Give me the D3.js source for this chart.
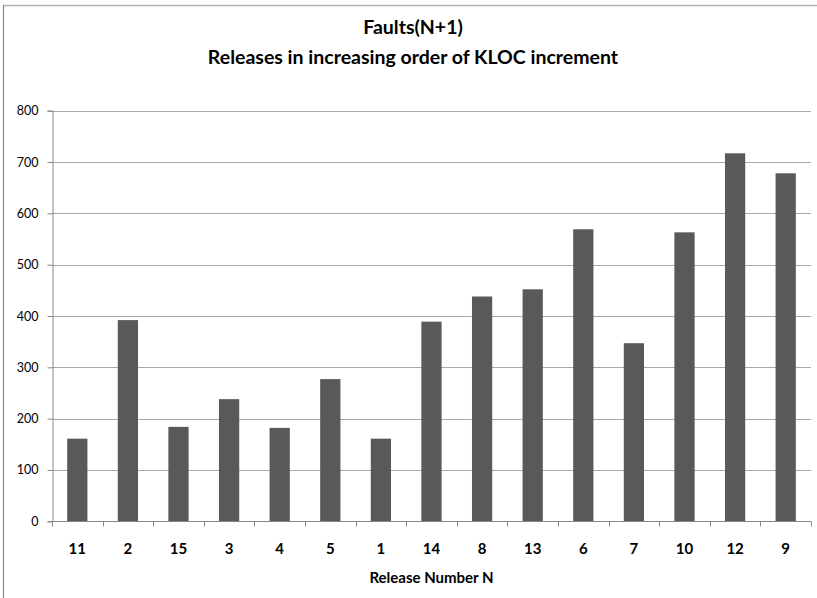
<!DOCTYPE html>
<html>
<head>
<meta charset="utf-8">
<script src="https://cdn.jsdelivr.net/npm/d3@7"></script>
<style>
  html, body { margin: 0; padding: 0; background: #fff; }
  svg { display: block; }
  text { font-family: Lato, "Noto Sans", sans-serif; fill: #000; }
</style>
</head>
<body>
<svg id="chart" width="817" height="598"></svg>
<script>
// Release numbers, ordered by increasing KLOC increment
const releases = ["11", "2", "15", "3", "4", "5", "1", "14", "8", "13", "6", "7", "10", "12", "9"];
// Faults found in the following release (N+1)
const faults = [161, 392, 184, 238, 182, 277, 161, 389, 438, 452, 569, 347, 563, 717, 678];
const yTicks = [0, 100, 200, 300, 400, 500, 600, 700, 800];

const titleLines = ["Faults(N+1)", "Releases in increasing order of KLOC increment"];
const xTitle = "Release Number N";

const W = 817, H = 598;
const plotLeft = 52, plotRight = 811, plotTop = 110.7, plotBottom = 521.3;

const svg = d3.select("#chart");

svg.append("rect").attr("width", W).attr("height", H).attr("fill", "#fff");

// chart frame (top and left edges)
svg.append("line").attr("x1", 3).attr("x2", W).attr("y1", 5.5).attr("y2", 5.5)
  .attr("stroke", "#b4b4b4").attr("stroke-width", 1.5);
svg.append("line").attr("x1", 3.5).attr("x2", 3.5).attr("y1", 5).attr("y2", H)
  .attr("stroke", "#8a8a8a").attr("stroke-width", 1.2);

const y = d3.scaleLinear().domain([0, 800]).range([plotBottom, plotTop]);
const x = d3.scaleBand().domain(releases).range([plotLeft, plotRight]).paddingInner(0.6).paddingOuter(0.3);
const xCat = d3.scaleBand().domain(releases).range([plotLeft, plotRight]).padding(0);

// horizontal gridlines
svg.append("g").selectAll("line").data(yTicks.filter(d => d > 0)).join("line")
  .attr("x1", plotLeft).attr("x2", plotRight)
  .attr("y1", d => Math.round(y(d)) + 0.5).attr("y2", d => Math.round(y(d)) + 0.5)
  .attr("stroke", "#a8a8a8").attr("stroke-width", 1);

// bars
svg.append("g").selectAll("rect").data(faults).join("rect")
  .attr("x", (d, i) => x(releases[i]))
  .attr("width", x.bandwidth())
  .attr("y", d => y(d))
  .attr("height", d => y(0) - y(d))
  .attr("fill", "#595959");

// y axis
const yAxis = d3.axisLeft(y).tickValues(yTicks).tickSize(5).tickPadding(9);
const gy = svg.append("g").attr("transform", `translate(${plotLeft + 0.5},0)`).call(yAxis);
gy.select(".domain").attr("stroke", "#868686");
gy.selectAll(".tick line").attr("stroke", "#868686");
gy.selectAll(".tick text").style("font-size", "12.5px").style("font-family", "Lato, sans-serif").attr("fill", "#000");

// x axis: category labels under each bar, tick marks on category boundaries
const gx = svg.append("g").attr("transform", `translate(0,${Math.round(plotBottom) + 0.5})`);
gx.append("line").attr("x1", plotLeft).attr("x2", plotRight).attr("y1", 0).attr("y2", 0).attr("stroke", "#868686");
const bounds = releases.map(r => xCat(r)).concat([plotRight]);
gx.selectAll("line.tk").data(bounds).join("line").attr("class", "tk")
  .attr("x1", d => Math.round(d) + 0.5).attr("x2", d => Math.round(d) + 0.5)
  .attr("y1", 0).attr("y2", 5).attr("stroke", "#868686");
gx.selectAll("text").data(releases).join("text")
  .attr("x", d => x(d) + x.bandwidth() / 2)
  .attr("y", 27)
  .attr("dy", "0.35em")
  .attr("text-anchor", "middle")
  .style("font-size", "15px").style("font-weight", "bold")
  .text(d => d);

// axis title
svg.append("text").attr("x", (plotLeft + plotRight) / 2).attr("y", 578).attr("dy", "0.35em")
  .attr("text-anchor", "middle").style("font-size", "15px").style("font-weight", "bold")
  .text(xTitle);

// chart title
svg.append("g").selectAll("text").data(titleLines).join("text")
  .attr("x", 413).attr("y", (d, i) => 27 + i * 30).attr("dy", "0.35em")
  .attr("text-anchor", "middle").style("font-size", "19.5px").style("font-weight", "bold")
  .text(d => d);
</script>
</body>
</html>
